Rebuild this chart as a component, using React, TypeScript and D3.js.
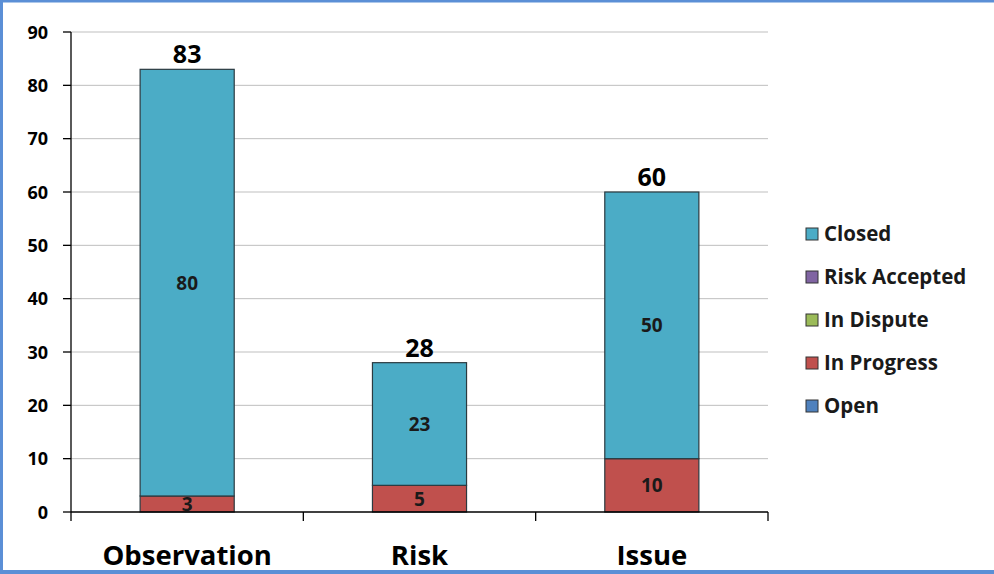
import React from "react";
import * as d3 from "d3";

const categories = ["Observation", "Risk", "Issue"];
const seriesNames = ["Open", "In Progress", "In Dispute", "Risk Accepted", "Closed"];
const openValues = [0, 0, 0];
const inProgressValues = [3, 5, 10];
const inDisputeValues = [0, 0, 0];
const riskAcceptedValues = [0, 0, 0];
const closedValues = [80, 23, 50];
const yTicks = [0, 10, 20, 30, 40, 50, 60, 70, 80, 90];
const colors = ["#4F81BD", "#C0504D", "#9BBB59", "#8064A2", "#4BACC6"];

const W = 994;
const H = 574;
const FONT = "'Open Sans', Lato, sans-serif";

export default function App() {
  const seriesValues = [openValues, inProgressValues, inDisputeValues, riskAcceptedValues, closedValues];
  const rows = categories.map((c, i) => {
    const r: any = { category: c };
    seriesNames.forEach((s, j) => (r[s] = seriesValues[j][i]));
    return r;
  });
  const stack = d3.stack<any>().keys(seriesNames)(rows);
  const totals = categories.map((_, i) => seriesValues.reduce((a, s) => a + s[i], 0));

  const x = d3.scaleBand().domain(categories).range([71, 768]).paddingInner(0.595).paddingOuter(0.2975);
  const y = d3.scaleLinear().domain([0, 90]).range([512, 32]);
  const step = x.step();
  const bounds = [0, 1, 2, 3].map((i) => 71 + i * step);

  const legendOrder = [...seriesNames].reverse();

  return (
    <svg width={W} height={H} style={{ position: "absolute", left: 0, top: 0 }} fontFamily={FONT}>
      <rect x={0} y={0} width={W} height={H} fill="#fff" />
      <rect x={1.5} y={1} width={W + 10} height={H - 3} fill="none" stroke="#5B8FD6" strokeWidth={3} />
      <rect x={0} y={570} width={W} height={4} fill="#5B8FD6" />
      {yTicks.filter((t) => t > 0).map((t) => (
        <line key={t} x1={71} x2={768} y1={y(t)} y2={y(t)} stroke="#BFBFBF" strokeWidth={1} />
      ))}
      {stack.map((layer, j) =>
        layer.map((d, i) => {
          if (d[1] - d[0] <= 0) return null;
          const bx = x(categories[i])!;
          return (
            <rect
              key={`${j}-${i}`}
              x={bx}
              y={y(d[1])}
              width={x.bandwidth()}
              height={y(d[0]) - y(d[1])}
              fill={colors[j]}
              stroke="#2B3A40"
              strokeWidth={1.2}
            />
          );
        })
      )}
      {stack.map((layer, j) =>
        layer.map((d, i) => {
          const v = d[1] - d[0];
          if (v <= 0) return null;
          const cx = x(categories[i])! + x.bandwidth() / 2;
          const cy = (y(d[0]) + y(d[1])) / 2;
          return (
            <text
              key={`l${j}-${i}`}
              x={cx}
              y={cy + 7}
              textAnchor="middle"
              fontSize={19}
              fontWeight="bold"
              fill="#1a1a1a"
            >
              {v}
            </text>
          );
        })
      )}
      {totals.map((t, i) => (
        <text
          key={`t${i}`}
          x={x(categories[i])! + x.bandwidth() / 2}
          y={y(t) - 6}
          textAnchor="middle"
          fontSize={25}
          fontWeight="bold"
          fill="#000"
        >
          {t}
        </text>
      ))}
      <line x1={71} x2={71} y1={32} y2={512} stroke="#000" strokeWidth={1.3} />
      <line x1={71} x2={768} y1={512} y2={512} stroke="#000" strokeWidth={1.3} />
      {yTicks.map((t) => (
        <g key={`yt${t}`}>
          <line x1={63} x2={71} y1={y(t)} y2={y(t)} stroke="#000" strokeWidth={1.3} />
          <text x={48} y={y(t) + 6.5} textAnchor="end" fontSize={18} fontWeight="bold" fill="#000">
            {t}
          </text>
        </g>
      ))}
      {bounds.map((b, i) => (
        <line key={`xt${i}`} x1={b} x2={b} y1={512} y2={521} stroke="#000" strokeWidth={1.3} />
      ))}
      {categories.map((c) => (
        <text
          key={c}
          x={x(c)! + x.bandwidth() / 2}
          y={565}
          textAnchor="middle"
          fontSize={27.5}
          fontWeight="bold"
          fill="#000"
        >
          {c}
        </text>
      ))}
      {legendOrder.map((s, k) => {
        const j = seriesNames.indexOf(s);
        const ly = 234 + k * 43;
        return (
          <g key={s}>
            <rect x={806} y={ly - 6} width={12} height={12} fill={colors[j]} stroke="#333" strokeWidth={1} />
            <text x={824} y={ly + 7} fontSize={20.5} fontWeight="bold" fill="#1a1a1a">
              {s}
            </text>
          </g>
        );
      })}
    </svg>
  );
}
